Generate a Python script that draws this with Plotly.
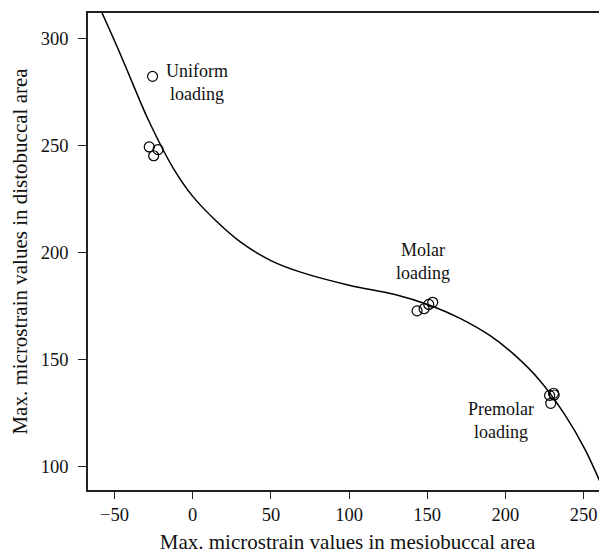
import plotly.graph_objects as go

# Observed points (mesiobuccal, distobuccal)
uniform_x = [-25.7, -27.8, -22.2, -25.0]
uniform_y = [282.1, 249.1, 247.9, 245.0]
molar_x = [143.5, 148.0, 151.0, 153.5]
molar_y = [172.5, 173.5, 175.5, 176.5]
premolar_x = [228.3, 230.8, 229.0, 231.2]
premolar_y = [133.0, 134.0, 129.3, 133.2]

# Fitted curve
curve_x = [-58, -47.4, -38, -28.3, -12.3, 0, 15, 30, 50, 69, 100, 130, 152, 171, 190, 206, 222, 238, 251, 262.8]
curve_y = [311.7, 294.3, 278, 261.6, 239, 226, 214.5, 205, 196, 190.6, 184.5, 180, 175, 169, 161, 151.8, 140, 124, 107.7, 88.8]

labels = [("Uniform<br>loading", 3, 279), ("Molar<br>loading", 147, 195.7), ("Premolar<br>loading", 197, 121.5)]

FONT = "Liberation Serif, Times New Roman, serif"

fig = go.Figure()
fig.add_trace(go.Scatter(x=curve_x, y=curve_y, mode="lines",
                         line=dict(color="black", width=1.5, shape="spline", smoothing=1.0),
                         showlegend=False, hoverinfo="skip"))
all_x = uniform_x + molar_x + premolar_x
all_y = uniform_y + molar_y + premolar_y
fig.add_trace(go.Scatter(x=all_x, y=all_y, mode="markers",
                         marker=dict(symbol="circle-open", size=10, color="black", line=dict(width=1.2)),
                         showlegend=False))
for text, x, y in labels:
    fig.add_annotation(x=x, y=y, text=text, showarrow=False, align="center",
                       font=dict(family=FONT, size=18, color="#111"))

# page body has an 8px margin, so the figure is 8px smaller and margins compensate
fig.update_layout(
    width=599, height=547,
    margin=dict(l=80, r=0, t=5, b=65),
    plot_bgcolor="white", paper_bgcolor="white",
    font=dict(family=FONT, size=18, color="#111"),
    xaxis=dict(range=[-67.0, 265.0], tickvals=[-50, 0, 50, 100, 150, 200, 250],
               ticktext=["\u221250", "0", "50", "100", "150", "200", "250"],
               showgrid=False, zeroline=False, showline=True, linecolor="#222", linewidth=1.5,
               mirror=True, ticks="outside", ticklen=7, tickcolor="#222", automargin=False,
               tickfont=dict(family=FONT, size=18.5),
               title=dict(text="Max. microstrain values in mesiobuccal area", standoff=10,
                          font=dict(family=FONT, size=21))),
    yaxis=dict(range=[88.8, 311.7], tickvals=[100, 150, 200, 250, 300],
               showgrid=False, zeroline=False, showline=True, linecolor="#222", linewidth=1.5,
               mirror=True, ticks="outside", ticklen=8, tickcolor="#222", automargin=False,
               tickfont=dict(family=FONT, size=18.5), ticklabelstandoff=6,
               title=dict(text="Max. microstrain values in distobuccal area", standoff=12,
                          font=dict(family=FONT, size=21))),
)
fig.write_html("out.html")
